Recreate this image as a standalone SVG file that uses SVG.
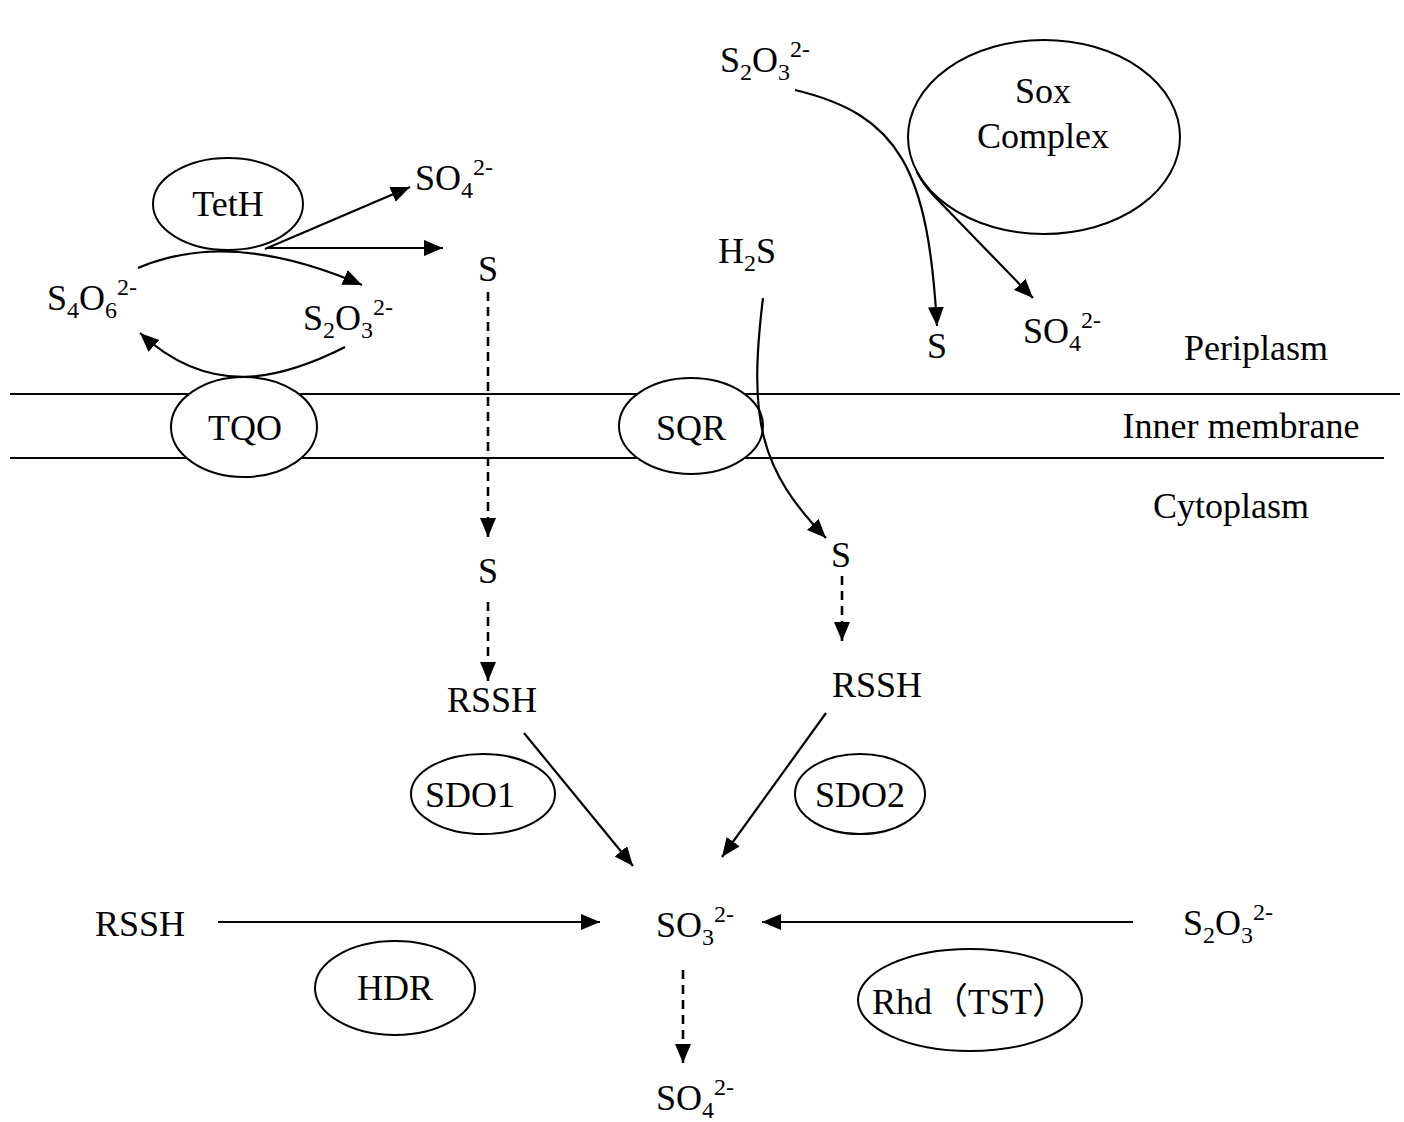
<svg xmlns="http://www.w3.org/2000/svg" width="1404" height="1122" viewBox="0 0 1404 1122">
<style>
text{font-family:"Liberation Serif","Noto Sans CJK SC",serif;font-size:36px;fill:#000}
.m{text-anchor:middle}
.sub{font-size:24px}
.node{fill:#fff;stroke:#000;stroke-width:2}
.mem{stroke:#000;stroke-width:2.2}
.c{fill:none;stroke:#000;stroke-width:2.2;marker-end:url(#ah)}
.d{stroke-dasharray:9 6;stroke-width:2.6}
</style>
<defs>
<marker id="ah" markerUnits="userSpaceOnUse" markerWidth="22" markerHeight="18" refX="19" refY="8" orient="auto">
<path d="M0,0 L19,8 L0,16 z" fill="#000"/>
</marker>
</defs>
<g id="membrane">
<line class="mem" x1="10" y1="394" x2="1400" y2="394"/>
<line class="mem" x1="10" y1="458" x2="1384" y2="458"/>
<text class="m" x="1256" y="360">Periplasm</text>
<text class="m" x="1241" y="438">Inner membrane</text>
<text class="m" x="1231" y="518">Cytoplasm</text>
</g>
<g id="TetH"><ellipse class="node" cx="228" cy="204" rx="75" ry="46"/><text class="m" x="228" y="216">TetH</text></g>
<g id="TQO"><ellipse class="node" cx="244" cy="427" rx="73" ry="50"/><text class="m" x="245" y="440">TQO</text></g>
<g id="SQR"><ellipse class="node" cx="691" cy="426" rx="72" ry="48"/><text class="m" x="691" y="440">SQR</text></g>
<g id="Sox"><ellipse class="node" cx="1044" cy="137" rx="136" ry="97"/><text class="m" x="1043" y="103">Sox</text><text class="m" x="1043" y="148">Complex</text></g>
<g id="SDO1"><ellipse class="node" cx="483" cy="794" rx="72" ry="40"/><text class="m" x="470" y="807">SDO1</text></g>
<g id="SDO2"><ellipse class="node" cx="860" cy="794" rx="65" ry="40"/><text class="m" x="860" y="807">SDO2</text></g>
<g id="HDR"><ellipse class="node" cx="395" cy="988" rx="80" ry="47"/><text class="m" x="395" y="1000">HDR</text></g>
<g id="Rhd"><ellipse class="node" cx="970" cy="1000" rx="112" ry="51"/><text class="m" x="970" y="1014">Rhd（TST）</text></g>
<g id="SO4_a"><text x="415" y="190">SO<tspan class="sub" dy="8">4</tspan><tspan class="sub" dy="-23">2-</tspan></text></g>
<g id="S_a"><text class="m" x="488" y="281">S</text></g>
<g id="S4O6"><text x="47" y="310">S<tspan class="sub" dy="8">4</tspan><tspan dy="-8">O</tspan><tspan class="sub" dy="8">6</tspan><tspan class="sub" dy="-23">2-</tspan></text></g>
<g id="S2O3_a"><text x="303" y="330">S<tspan class="sub" dy="8">2</tspan><tspan dy="-8">O</tspan><tspan class="sub" dy="8">3</tspan><tspan class="sub" dy="-23">2-</tspan></text></g>
<g id="S2O3_b"><text x="720" y="72">S<tspan class="sub" dy="8">2</tspan><tspan dy="-8">O</tspan><tspan class="sub" dy="8">3</tspan><tspan class="sub" dy="-23">2-</tspan></text></g>
<g id="H2S"><text x="718" y="263">H<tspan class="sub" dy="8">2</tspan><tspan dy="-8">S</tspan></text></g>
<g id="S_b"><text class="m" x="937" y="358">S</text></g>
<g id="SO4_b"><text x="1023" y="343">SO<tspan class="sub" dy="8">4</tspan><tspan class="sub" dy="-23">2-</tspan></text></g>
<g id="S_c"><text class="m" x="488" y="583">S</text></g>
<g id="S_d"><text class="m" x="841" y="567">S</text></g>
<g id="RSSH_a"><text class="m" x="492" y="712">RSSH</text></g>
<g id="RSSH_b"><text class="m" x="877" y="697">RSSH</text></g>
<g id="RSSH_c"><text x="95" y="936">RSSH</text></g>
<g id="SO3"><text x="656" y="937">SO<tspan class="sub" dy="8">3</tspan><tspan class="sub" dy="-23">2-</tspan></text></g>
<g id="S2O3_c"><text x="1183" y="935">S<tspan class="sub" dy="8">2</tspan><tspan dy="-8">O</tspan><tspan class="sub" dy="8">3</tspan><tspan class="sub" dy="-23">2-</tspan></text></g>
<g id="SO4_c"><text x="656" y="1110">SO<tspan class="sub" dy="8">4</tspan><tspan class="sub" dy="-23">2-</tspan></text></g>
<g id="connectors">
<line class="c" x1="265" y1="249" x2="410" y2="187"/>
<line class="c" x1="268" y1="248" x2="443" y2="248"/>
<path class="c" d="M138,268 Q230,228 362,285"/>
<path class="c" d="M345,347 C280,380 210,398 140,333"/>
<line class="c d" x1="488" y1="292" x2="488" y2="537"/>
<path class="c" d="M795,90 C900,115 928,170 937,326"/>
<path class="c" d="M917,172 Q924,186 937,199 L1033,298"/>
<path class="c" d="M763,298 C748,420 760,470 826,538"/>
<line class="c d" x1="842" y1="576" x2="842" y2="641"/>
<line class="c d" x1="488" y1="602" x2="488" y2="681"/>
<line class="c" x1="524" y1="733" x2="633" y2="866"/>
<line class="c" x1="826" y1="713" x2="722" y2="857"/>
<line class="c" x1="218" y1="922" x2="600" y2="922"/>
<line class="c" x1="1133" y1="922" x2="762" y2="922"/>
<line class="c d" x1="683" y1="970" x2="683" y2="1063"/>
</g>
</svg>
